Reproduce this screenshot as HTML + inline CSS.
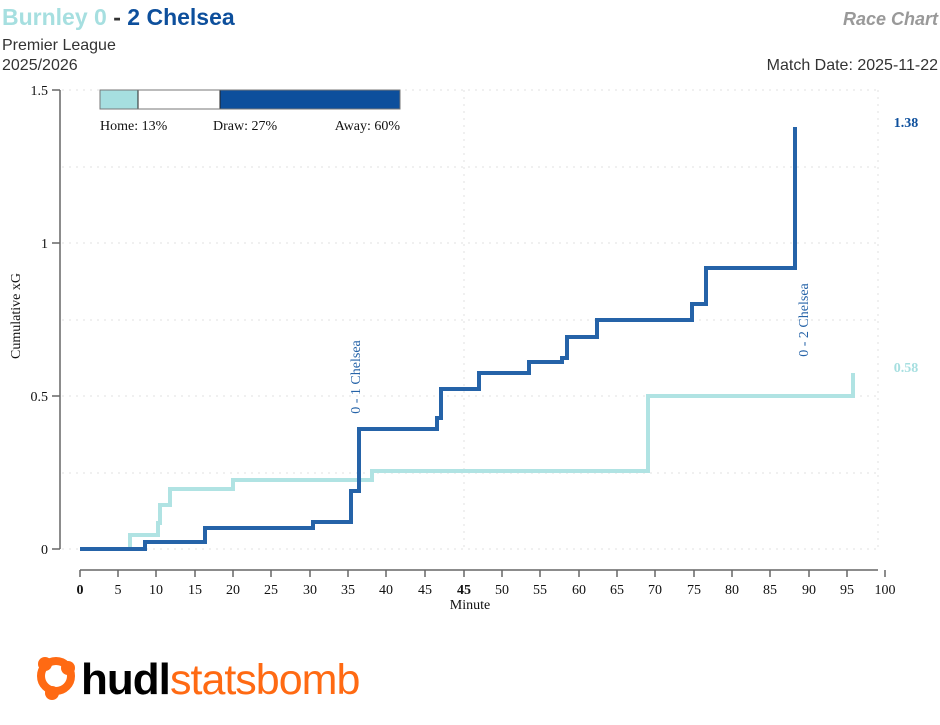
<!DOCTYPE html>
<html><head><meta charset="utf-8"><style>
body{margin:0;background:#fff;width:940px;height:720px;overflow:hidden;font-family:"Liberation Sans",sans-serif}
</style></head><body>
<svg width="940" height="720" viewBox="0 0 940 720" xmlns="http://www.w3.org/2000/svg">
<text x="2" y="25" font-family="Liberation Sans" font-weight="bold" font-size="23" fill="#a6dfe0">Burnley 0 <tspan fill="#333">-</tspan> <tspan fill="#0d4f9c">2 Chelsea</tspan></text>
<text x="938" y="25" text-anchor="end" font-family="Liberation Sans" font-weight="bold" font-style="italic" font-size="18" fill="#999">Race Chart</text>
<text x="2" y="50" font-size="16" fill="#333">Premier League</text>
<text x="2" y="70" font-size="16" fill="#333">2025/2026</text>
<text x="938" y="70" text-anchor="end" font-size="16" fill="#333">Match Date: 2025-11-22</text>
<g stroke="#e2e2e2" stroke-width="1" stroke-dasharray="2,5">
<line x1="62" y1="90" x2="878" y2="90"/><line x1="62" y1="167" x2="878" y2="167"/><line x1="62" y1="243" x2="878" y2="243"/><line x1="62" y1="320" x2="878" y2="320"/><line x1="62" y1="396" x2="878" y2="396"/><line x1="62" y1="473" x2="878" y2="473"/><line x1="62" y1="549" x2="878" y2="549"/>
<line x1="464" y1="90" x2="464" y2="549"/><line x1="878" y1="90" x2="878" y2="549"/>
</g>
<g stroke="#666" stroke-width="1.5" fill="none">
<line x1="60" y1="90" x2="60" y2="549"/>
<line x1="52" y1="90" x2="60" y2="90"/><line x1="52" y1="243" x2="60" y2="243"/><line x1="52" y1="396" x2="60" y2="396"/><line x1="52" y1="549" x2="60" y2="549"/>
<line x1="80" y1="570" x2="878" y2="570"/>
</g>
<g stroke="#666" stroke-width="1.5">
<line x1="80" y1="570" x2="80" y2="577"/><line x1="118" y1="570" x2="118" y2="577"/><line x1="156" y1="570" x2="156" y2="577"/><line x1="195" y1="570" x2="195" y2="577"/><line x1="233" y1="570" x2="233" y2="577"/><line x1="271" y1="570" x2="271" y2="577"/><line x1="310" y1="570" x2="310" y2="577"/><line x1="348" y1="570" x2="348" y2="577"/><line x1="386" y1="570" x2="386" y2="577"/><line x1="425" y1="570" x2="425" y2="577"/><line x1="464" y1="570" x2="464" y2="577"/><line x1="502" y1="570" x2="502" y2="577"/><line x1="540" y1="570" x2="540" y2="577"/><line x1="579" y1="570" x2="579" y2="577"/><line x1="617" y1="570" x2="617" y2="577"/><line x1="655" y1="570" x2="655" y2="577"/><line x1="694" y1="570" x2="694" y2="577"/><line x1="732" y1="570" x2="732" y2="577"/><line x1="770" y1="570" x2="770" y2="577"/><line x1="809" y1="570" x2="809" y2="577"/><line x1="847" y1="570" x2="847" y2="577"/><line x1="885" y1="570" x2="885" y2="577"/>
</g>
<g font-family="Liberation Serif" font-size="14" fill="#111" text-anchor="middle">
<text x="80" y="594" font-weight="bold">0</text><text x="118" y="594">5</text><text x="156" y="594">10</text><text x="195" y="594">15</text><text x="233" y="594">20</text><text x="271" y="594">25</text><text x="310" y="594">30</text><text x="348" y="594">35</text><text x="386" y="594">40</text><text x="425" y="594">45</text><text x="464" y="594" font-weight="bold">45</text><text x="502" y="594">50</text><text x="540" y="594">55</text><text x="579" y="594">60</text><text x="617" y="594">65</text><text x="655" y="594">70</text><text x="694" y="594">75</text><text x="732" y="594">80</text><text x="770" y="594">85</text><text x="809" y="594">90</text><text x="847" y="594">95</text><text x="885" y="594">100</text>
<text x="470" y="609">Minute</text>
</g>
<g font-family="Liberation Serif" font-size="14" fill="#111" text-anchor="end">
<text x="48" y="95">1.5</text><text x="48" y="248">1</text><text x="48" y="401">0.5</text><text x="48" y="554">0</text>
</g>
<text transform="translate(20,316) rotate(-90)" text-anchor="middle" font-family="Liberation Serif" font-size="14" fill="#111">Cumulative xG</text>
<rect x="100" y="90" width="38" height="19" fill="#a6dfe0" stroke="#222" stroke-width="1"/>
<rect x="138" y="90" width="82" height="19" fill="#fff" stroke="#222" stroke-width="1"/>
<rect x="220" y="90" width="180" height="19" fill="#0d4f9c" stroke="#222" stroke-width="1"/>
<rect x="100" y="90" width="300" height="19" fill="none" stroke="#777" stroke-width="1"/>
<g font-family="Liberation Serif" font-size="14" fill="#111">
<text x="100" y="130">Home: 13%</text><text x="213" y="130">Draw: 27%</text><text x="400" y="130" text-anchor="end">Away: 60%</text>
</g>
<polyline fill="none" stroke="#b0e3e3" stroke-width="4" points="80,549 130,549 130,535 158,535 158,523 160,523 160,505 170,505 170,489 233,489 233,480 372,480 372,471 648,471 648,396 853,396 853,373"/>
<polyline fill="none" stroke="#2563a8" stroke-width="4" points="80,549 145,549 145,542 205,542 205,528 313,528 313,522 351,522 351,491 359,491 359,429 437,429 437,418 441,418 441,389 479,389 479,373 529,373 529,362 562,362 562,358 567,358 567,337 597,337 597,320 692,320 692,304 706,304 706,268 795,268 795,127"/>
<text transform="translate(360,377) rotate(-90)" text-anchor="middle" font-family="Liberation Serif" font-size="14" fill="#2563a8">0 - 1 Chelsea</text>
<text transform="translate(808,320) rotate(-90)" text-anchor="middle" font-family="Liberation Serif" font-size="14" fill="#2563a8">0 - 2 Chelsea</text>
<text x="906" y="127" text-anchor="middle" font-family="Liberation Serif" font-weight="bold" font-size="14" fill="#0d4f9c">1.38</text>
<text x="906" y="372" text-anchor="middle" font-family="Liberation Serif" font-weight="bold" font-size="14" fill="#a6dfe0">0.58</text>
<g fill="#ff6a13">
<circle cx="56" cy="676" r="15" fill="none" stroke="#ff6a13" stroke-width="8"/>
<circle cx="45" cy="664" r="7"/><circle cx="68" cy="668" r="7"/><circle cx="52" cy="693" r="7"/>
</g>
<text x="81" y="694" font-family="Liberation Sans" font-weight="bold" font-size="44" fill="#000" letter-spacing="-1">hudl</text>
<text x="170" y="694" font-family="Liberation Sans" font-size="43" fill="#ff6a13" letter-spacing="-1">statsbomb</text>
</svg>
</body></html>
